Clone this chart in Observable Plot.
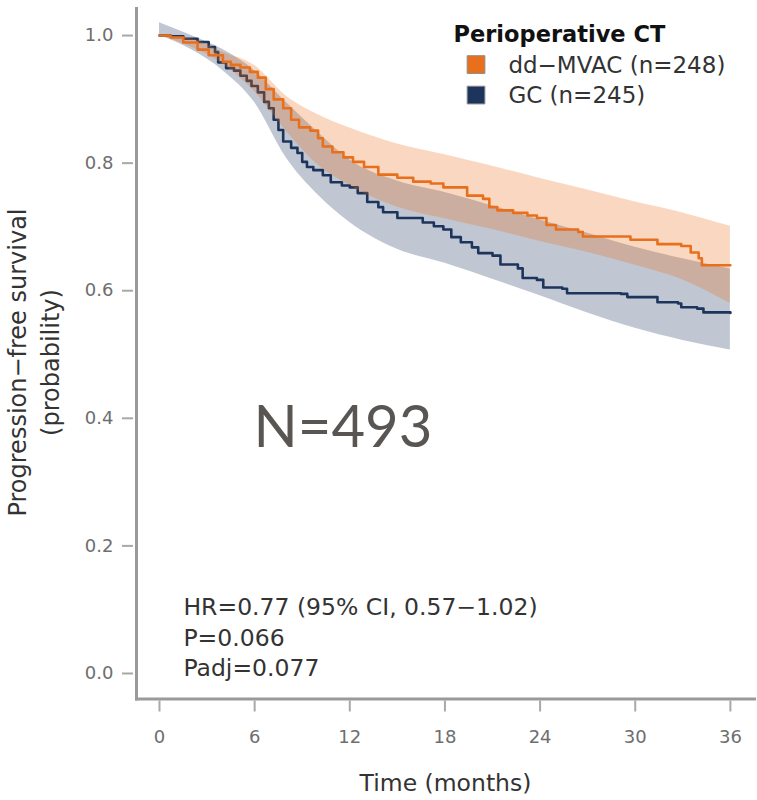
<!DOCTYPE html>
<html>
<head>
<meta charset="utf-8">
<script src="https://cdn.jsdelivr.net/npm/d3@7"></script>
<script src="https://cdn.jsdelivr.net/npm/@observablehq/plot@0.6"></script>
<style>
  body { margin: 0; background: #ffffff; }
  #chart svg { display: block; }
</style>
</head>
<body>
<div id="chart"></div>
<script>
// ---------------- data ----------------
const xTicks = [0, 6, 12, 18, 24, 30, 36];
const yTicks = [0, 0.2, 0.4, 0.6, 0.8, 1.0];
const seriesNames = ["dd\u2212MVAC (n=248)", "GC (n=245)"];
const legendTitle = "Perioperative CT";
const xLabel = "Time (months)";
const yLabelLines = ["Progression\u2212free survival", "(probability)"];
const annotationLines = ["HR=0.77 (95% CI, 0.57\u22121.02)", "P=0.066", "Padj=0.077"];
const totalLabel = "N=493";

// dd-MVAC Kaplan-Meier steps
const mvacTime = [0, 0.7, 1.5, 2.4, 3.1, 4.0, 4.5, 5.1, 5.7, 6.2, 6.7, 7.2, 7.8, 8.3, 8.8, 9.5, 10.0, 10.3, 10.9, 11.6, 12.2, 12.9, 13.8, 15.0, 16.0, 17.1, 17.9, 19.4, 20.4, 20.8, 21.3, 22.3, 23.2, 23.8, 24.4, 25.0, 26.4, 26.7, 29.7, 31.4, 32.9, 33.5, 34.0, 34.2, 36];
const mvacSurv = [1.0, 0.997, 0.989, 0.978, 0.969, 0.959, 0.954, 0.950, 0.943, 0.934, 0.916, 0.900, 0.886, 0.868, 0.856, 0.851, 0.839, 0.826, 0.817, 0.809, 0.802, 0.794, 0.782, 0.777, 0.771, 0.768, 0.762, 0.749, 0.744, 0.731, 0.726, 0.722, 0.718, 0.714, 0.703, 0.696, 0.692, 0.685, 0.680, 0.673, 0.670, 0.660, 0.651, 0.640, 0.640];

// GC Kaplan-Meier steps
const gcTime = [0, 0.7, 1.5, 2.4, 3.1, 3.5, 3.7, 4.2, 4.7, 5.1, 5.5, 5.8, 6.2, 6.6, 6.9, 7.2, 7.5, 7.8, 8.3, 8.7, 9.0, 9.3, 9.7, 10.3, 10.8, 11.5, 12.0, 12.5, 13.1, 13.8, 14.1, 15.0, 16.6, 17.3, 17.9, 18.4, 19.0, 19.7, 20.1, 21.0, 21.5, 22.6, 22.9, 23.8, 24.2, 25.4, 25.7, 29.1, 29.5, 31.4, 32.7, 32.9, 33.9, 34.3, 36];
const gcSurv = [1.0, 0.999, 0.995, 0.990, 0.982, 0.974, 0.958, 0.949, 0.945, 0.937, 0.929, 0.921, 0.911, 0.896, 0.886, 0.868, 0.852, 0.834, 0.824, 0.816, 0.802, 0.794, 0.789, 0.781, 0.770, 0.765, 0.762, 0.753, 0.739, 0.731, 0.723, 0.714, 0.707, 0.701, 0.696, 0.684, 0.676, 0.668, 0.659, 0.655, 0.641, 0.635, 0.620, 0.617, 0.605, 0.603, 0.596, 0.595, 0.590, 0.582, 0.580, 0.574, 0.572, 0.566, 0.565];

// confidence bands
const bandTime  = [0, 2, 4, 6, 8, 10, 12, 15, 18, 21, 24, 27, 30, 33, 36];
const mvacUpper = [1.0, 0.995, 0.974, 0.953, 0.905, 0.876, 0.855, 0.830, 0.813, 0.795, 0.776, 0.758, 0.739, 0.722, 0.701];
const mvacLower = [1.0, 0.982, 0.955, 0.912, 0.850, 0.797, 0.765, 0.731, 0.713, 0.696, 0.677, 0.660, 0.640, 0.617, 0.580];
const gcUpper   = [1.02, 1.0, 0.978, 0.945, 0.895, 0.848, 0.805, 0.772, 0.754, 0.733, 0.711, 0.690, 0.668, 0.650, 0.634];
const gcLower   = [1.0, 0.978, 0.945, 0.895, 0.808, 0.750, 0.707, 0.665, 0.643, 0.618, 0.592, 0.565, 0.541, 0.522, 0.507];

// ---------------- build tables ----------------
const ORANGE = "#e8701c";
const NAVY = "#1d355c";
const seriesColors = [ORANGE, NAVY];

const mvacSteps = mvacTime.map((t, i) => ({t, s: mvacSurv[i]}));
const gcSteps = gcTime.map((t, i) => ({t, s: gcSurv[i]}));
const mvacBand = bandTime.map((t, i) => ({t, lo: mvacLower[i], hi: mvacUpper[i]}));
const gcBand = bandTime.map((t, i) => ({t, lo: gcLower[i], hi: gcUpper[i]}));
const legendRows = seriesNames.map((name, i) => ({name, i, color: seriesColors[i]}));

const FONT = "'DejaVu Sans', 'Liberation Sans', Arial, sans-serif";

const chart = Plot.plot({
  width: 757,
  height: 800,
  marginLeft: 136,
  marginRight: 3,
  marginTop: 8,
  marginBottom: 101.5,
  style: {fontFamily: FONT, background: "#ffffff", overflow: "visible"},
  x: {domain: [-1.45, 37.52]},
  y: {domain: [-0.04, 1.0424]},
  color: {type: "identity"},
  marks: [
    // GC band + line
    Plot.areaY(gcBand, {x: "t", y1: "lo", y2: "hi", fill: NAVY, fillOpacity: 0.28, curve: "monotone-x"}),
    Plot.line(gcSteps, {x: "t", y: "s", stroke: NAVY, strokeWidth: 2.6, curve: "step-after"}),
    // dd-MVAC band + line
    Plot.areaY(mvacBand, {x: "t", y1: "lo", y2: "hi", fill: ORANGE, fillOpacity: 0.28, curve: "monotone-x"}),
    Plot.line(mvacSteps, {x: "t", y: "s", stroke: ORANGE, strokeWidth: 2.6, curve: "step-after"}),

    // axis lines (L shape)
    Plot.frame({anchor: "left", stroke: "#9a9a9a", strokeWidth: 3}),
    Plot.frame({anchor: "bottom", stroke: "#9a9a9a", strokeWidth: 3}),

    // ticks
    Plot.axisX({ticks: xTicks, tickSize: 11, dy: 2, tickFormat: () => "", stroke: "#a8a8a8", strokeWidth: 2, label: null}),
    Plot.axisY({ticks: yTicks, tickSize: 11, dx: -3, tickFormat: () => "", stroke: "#a8a8a8", strokeWidth: 2, label: null}),
    // tick labels
    Plot.axisX({ticks: xTicks, tickSize: 0, tickPadding: 31, fontSize: 18, color: "#6e6e6e", label: null}),
    Plot.axisY({ticks: yTicks, tickSize: 0, tickPadding: 23, fontSize: 18, color: "#6e6e6e", tickFormat: d3.format(".1f"), label: null}),

    // axis titles
    Plot.text([xLabel], {frameAnchor: "bottom", dy: 91.5, text: d => d, lineAnchor: "bottom", textAnchor: "middle", fontSize: 23.5, fill: "#333333"}),
    Plot.text([yLabelLines[0]], {frameAnchor: "left", rotate: -90, dx: -110.5, dy: 8.75, text: d => d, lineAnchor: "bottom", textAnchor: "middle", fontSize: 24, fill: "#333333"}),
    Plot.text([yLabelLines[1]], {frameAnchor: "left", rotate: -90, dx: -78, dy: 8.75, text: d => d, lineAnchor: "bottom", textAnchor: "middle", fontSize: 24, fill: "#333333"}),

    // legend
    Plot.text([legendTitle], {x: 18.54, y: 0.9898, text: d => d, textAnchor: "start", lineAnchor: "bottom", fontSize: 22.5, fontWeight: "bold", fill: "#111111"}),
    Plot.dot(legendRows, {x: 19.96, y: d => 0.9545 - d.i * 0.0478, symbol: "square", r: 10, fill: "color", stroke: "#8c8c8c", strokeWidth: 1}),
    Plot.text(legendRows, {x: 22.0, y: d => 0.9412 - d.i * 0.0471, text: "name", textAnchor: "start", lineAnchor: "bottom", fontSize: 23, fill: "#333333"}),

    // annotations
    Plot.text([annotationLines.join("\n")], {x: 1.51, y: -0.0047, text: d => d, textAnchor: "start", lineAnchor: "bottom", lineHeight: 30.5 / 23.5, fontSize: 23.5, fill: "#333333"}),
    Plot.text([totalLabel], {x: 11.57, y: 0.3545, text: d => d, textAnchor: "middle", lineAnchor: "bottom", fontSize: 58, fontFamily: "Lato, 'Open Sans', sans-serif", fill: "#595553"})
  ]
});

document.getElementById("chart").appendChild(chart);
</script>
</body>
</html>
